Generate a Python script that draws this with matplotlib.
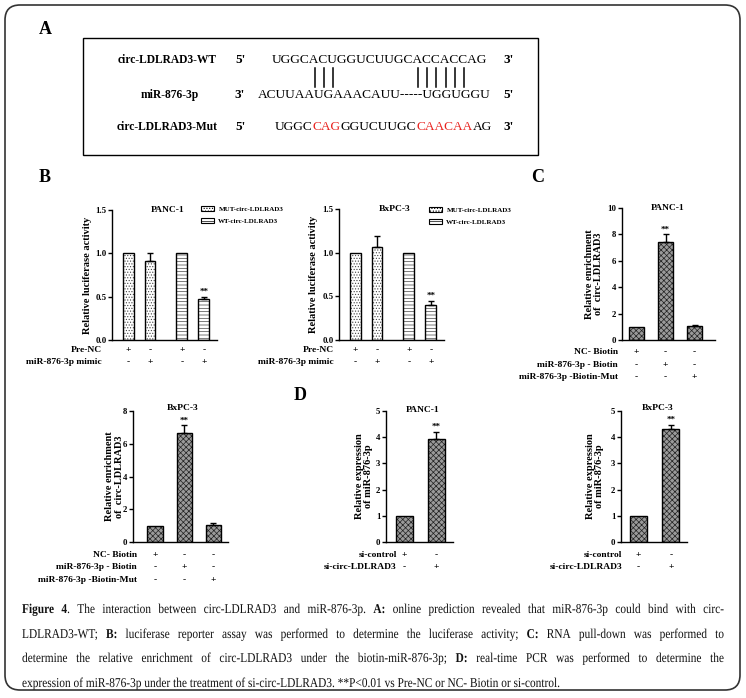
import matplotlib
matplotlib.use("Agg")
import matplotlib.pyplot as plt
from matplotlib.patches import Patch, Rectangle, FancyBboxPatch, PathPatch
from matplotlib.lines import Line2D
from matplotlib.textpath import TextPath, text_to_path
from matplotlib.font_manager import FontProperties
from matplotlib.transforms import Affine2D

plt.rcParams['font.family'] = ['Liberation Serif', 'DejaVu Serif']
plt.rcParams['hatch.linewidth'] = 0.5

W, H = 746, 698

# ---- panel A: sequences ----
seq_labels = ["circ-LDLRAD3-WT", "miR-876-3p", "circ-LDLRAD3-Mut"]
seq_ends = [("5'", "3'"), ("3'", "5'"), ("5'", "3'")]
wt_seq = "UGGCACUGGUCUUGCACCACCAG"
mir_seq = "ACUUAAUGAAACAUU-----UGGUGGU"
mut_parts = ["UGGC", "CAG", "GGUCUUGC", "CAACAA", "AG"]
mut_changed = [False, True, False, True, False]
paired = [4, 5, 6, 15, 16, 17, 18, 19, 20]   # WT positions that pair with the miRNA

# ---- panel B: luciferase ----
luc_groups = ["MUT-circ-LDLRAD3", "WT-circ-LDLRAD3"]
luc_rows = ["Pre-NC", "miR-876-3p mimic"]
luc_signs = [["+", "-", "+", "-"], ["-", "+", "-", "+"]]
luc_pos = [0, 1, 2.45, 3.45]
luc_panc = [1.0, 0.915, 1.0, 0.47]
luc_panc_err = [0, 0.085, 0, 0.03]
luc_bxpc = [1.0, 1.06, 1.0, 0.40]
luc_bxpc_err = [0, 0.13, 0, 0.05]
luc_stars = ["", "", "", "**"]

# ---- panel C: pull-down ----
pull_rows = ["NC- Biotin", "miR-876-3p - Biotin", "miR-876-3p -Biotin-Mut"]
pull_signs = [["+", "-", "-"], ["-", "+", "-"], ["-", "-", "+"]]
pull_pos = [0, 1, 2]
pull_panc = [1.0, 7.4, 1.06]
pull_panc_err = [0, 0.63, 0.07]
pull_bxpc = [1.0, 6.67, 1.03]
pull_bxpc_err = [0, 0.46, 0.1]
pull_stars = ["", "**", ""]

# ---- panel D: qPCR ----
pcr_rows = ["si-control", "si-circ-LDLRAD3"]
pcr_signs = [["+", "-"], ["-", "+"]]
pcr_pos = [0, 1]
pcr_panc = [1.0, 3.93]
pcr_panc_err = [0, 0.28]
pcr_bxpc = [1.0, 4.31]
pcr_bxpc_err = [0, 0.16]
pcr_stars = ["", "**"]

caption_lines = [
    "§Figure 4§. The interaction between circ-LDLRAD3 and miR-876-3p. §A:§ online prediction revealed that miR-876-3p could bind with circ-",
    "LDLRAD3-WT; §B:§ luciferase reporter assay was performed to determine the luciferase activity; §C:§ RNA pull-down was performed to",
    "determine the relative enrichment of circ-LDLRAD3 under the biotin-miR-876-3p; §D:§ real-time PCR was performed to determine the",
    "expression of miR-876-3p under the treatment of si-circ-LDLRAD3. **P<0.01 vs Pre-NC or NC- Biotin or si-control.",
]


def fx(x):
    return x / W


def fy(y):
    return 1 - y / H


fig = plt.figure(figsize=(W / 100, H / 100), dpi=100)
r = fig.canvas.get_renderer()

# outer rounded frame
fig.patches.append(FancyBboxPatch((0.05, 0.08), 7.35, 6.85, boxstyle="round,pad=0,rounding_size=0.15",
                                  transform=fig.dpi_scale_trans, fill=False, edgecolor='#333333', linewidth=1.2))

# panel letters
for letter, (x, y) in zip("ABCD", [(45, 30), (45, 178), (538, 178), (300, 395)]):
    fig.text(fx(x), fy(y), letter, fontsize=13, fontweight='bold', ha='center', va='center')

# ---- panel A ----
fig.patches.append(Rectangle((fx(83), fy(155)), fx(538) - fx(83), fy(38) - fy(155),
                             transform=fig.transFigure, fill=False, edgecolor='black', linewidth=1.0))
row_y = [60, 95, 127]
lab_x = [167, 170, 167]
for lab, lx, yy, (e1, e2) in zip(seq_labels, lab_x, row_y, seq_ends):
    fig.text(fx(lx), fy(yy), lab, fontsize=8.3, fontweight='bold', ha='center', va='center')
    fig.text(fx(240), fy(yy), e1, fontsize=9.5, fontweight='bold', ha='center', va='center')
    fig.text(fx(509), fy(yy), e2, fontsize=9.5, fontweight='bold', ha='center', va='center')

seq_fs = 9.6
wt_x0 = 272
fig.text(fx(wt_x0), fy(row_y[0]), wt_seq, fontsize=seq_fs, ha='left', va='center')
fig.text(fx(258), fy(row_y[1]), mir_seq, fontsize=seq_fs, ha='left', va='center')
x = 275
for part, changed in zip(mut_parts, mut_changed):
    t = fig.text(fx(x), fy(row_y[2]), part, fontsize=seq_fs, ha='left', va='center',
                 color='#e8231f' if changed else 'black')
    x += t.get_window_extent(r).width

# pairing bars, placed under the paired WT letters
probe = fig.text(0, 0, "", fontsize=seq_fs)
for i in paired:
    probe.set_text(wt_seq[:i])
    w0 = probe.get_window_extent(r).width if i else 0
    probe.set_text(wt_seq[:i + 1])
    w1 = probe.get_window_extent(r).width
    xc = wt_x0 + (w0 + w1) / 2
    fig.lines.append(Line2D([fx(xc), fx(xc)], [fy(68), fy(87)], transform=fig.transFigure,
                            color='black', linewidth=1.1))
probe.remove()


# ---- bar chart helpers ----
def make_axes(x0, x1, y0, y1):
    return fig.add_axes([fx(x0), fy(y1), fx(x1) - fx(x0), fy(y0) - fy(y1)])


def style(ax, ylim, yticks, fmt):
    ax.set_ylim(*ylim)
    ax.set_yticks(yticks)
    ax.set_yticklabels([fmt.format(t) for t in yticks], fontsize=6.3, fontweight='bold')
    ax.set_xticks([])
    for s in ['top', 'right']:
        ax.spines[s].set_visible(False)
    for s in ['left', 'bottom']:
        ax.spines[s].set_linewidth(1.0)
    ax.tick_params(axis='y', direction='out', length=3, width=1.0, pad=1)
    ax.patch.set_alpha(0)


def bars(ax, pos, vals, errs, stars, hatches, width):
    for p, v, e, s, h in zip(pos, vals, errs, stars, hatches):
        if h == 'check':
            ax.bar(p, v, width, color='#9a9a9a', edgecolor='#222222', hatch='xxxxxx', linewidth=0, zorder=2)
        else:
            ax.bar(p, v, width, color='white', edgecolor='#444444', hatch=h, linewidth=0, zorder=2)
        ax.bar(p, v, width, fill=False, edgecolor='black', linewidth=1.0, zorder=3)
        if e:
            ax.errorbar(p, v, yerr=[[0], [e]], fmt='none', ecolor='black', elinewidth=1.0,
                        capsize=2.5, capthick=1.0, zorder=4)
        if s:
            ax.annotate(s, xy=(p, v + e), xytext=(0, 0.5), textcoords='offset points',
                        ha='center', va='bottom', fontsize=6.5, fontweight='bold')


def conditions(ax, pos, rows, signs, offsets, label_dx):
    for lab, sg, off in zip(rows, signs, offsets):
        ax.annotate(lab, xy=(0, 0), xycoords='axes fraction', xytext=(label_dx, -off),
                    textcoords='offset pixels', ha='right', va='center', fontsize=6.8, fontweight='bold',
                    annotation_clip=False)
        for p, c in zip(pos, sg):
            ax.annotate(c, xy=(p, 0), xycoords=('data', 'axes fraction'), xytext=(0, -off),
                        textcoords='offset pixels', ha='center', va='center', fontsize=6.8,
                        fontweight='bold', annotation_clip=False)


def labels(ax, ylabel, label_dx, title, title_x, title_dy=0):
    ax.set_ylabel(ylabel, fontsize=7.5, fontweight='bold', linespacing=1.1)
    ax.yaxis.label.set_va('center')
    wpx = ax.get_position().width * W
    ax.yaxis.set_label_coords(label_dx / wpx, 0.5)
    hpx = ax.get_position().height * H
    ax.text(title_x, 1 + title_dy / hpx, title, transform=ax.transAxes, ha='center', va='center',
            fontsize=6.8, fontweight='bold')


luc_hatch = ['......', '......', '-----', '-----']

# B: PANC-1
ax = make_axes(112, 217, 210, 340)
bars(ax, luc_pos, luc_panc, luc_panc_err, luc_stars, luc_hatch, 0.5)
ax.set_xlim(-0.73, 4.05)
style(ax, (0, 1.5), [0, 0.5, 1.0, 1.5], "{:.1f}")
labels(ax, "Relative luciferase activity", -24, "PANC-1", 0.53)
conditions(ax, luc_pos, luc_rows, luc_signs, [10, 22], -10)
handles = [Patch(facecolor='white', edgecolor='black', hatch='......', linewidth=0.8),
           Patch(facecolor='white', edgecolor='black', hatch='-----', linewidth=0.8)]
leg_kw = dict(loc='upper left', bbox_transform=fig.transFigure, frameon=False, borderpad=0,
              borderaxespad=0, handlelength=1.8, handleheight=0.75, handletextpad=0.7,
              labelspacing=0.9, prop={'size': 5, 'weight': 'bold'})
ax.legend(handles, luc_groups, bbox_to_anchor=(fx(201), fy(206)), **leg_kw)

# B: BxPC-3
ax = make_axes(339, 444, 209, 340)
bars(ax, luc_pos, luc_bxpc, luc_bxpc_err, luc_stars, luc_hatch, 0.5)
ax.set_xlim(-0.73, 4.05)
style(ax, (0, 1.5), [0, 0.5, 1.0, 1.5], "{:.1f}")
labels(ax, "Relative luciferase activity", -25, "BxPC-3", 0.53)
conditions(ax, luc_pos, luc_rows, luc_signs, [10, 22], -5)
ax.legend(handles, luc_groups, bbox_to_anchor=(fx(429), fy(207)), **leg_kw)

# C: PANC-1
ax = make_axes(622, 715, 208, 340)
bars(ax, pull_pos, pull_panc, pull_panc_err, pull_stars, ['check'] * 3, 0.52)
ax.set_xlim(-0.5, 2.7)
style(ax, (0, 10), [0, 2, 4, 6, 8, 10], "{:d}")
labels(ax, "Relative enrichment\nof  circ-LDLRAD3", -28, "PANC-1", 0.49)
conditions(ax, pull_pos, pull_rows, pull_signs, [12, 25, 37], -4)

# C: BxPC-3
ax = make_axes(133, 228, 411, 542)
bars(ax, pull_pos, pull_bxpc, pull_bxpc_err, pull_stars, ['check'] * 3, 0.52)
ax.set_xlim(-0.75, 2.5)
style(ax, (0, 8), [0, 2, 4, 6, 8], "{:d}")
labels(ax, "Relative enrichment\nof  circ-LDLRAD3", -18.5, "BxPC-3", 0.52, 3)
conditions(ax, pull_pos, pull_rows, pull_signs, [13, 25, 38], 4)

# D: PANC-1
ax = make_axes(386, 453, 411, 542)
bars(ax, pcr_pos, pcr_panc, pcr_panc_err, pcr_stars, ['check'] * 2, 0.53)
ax.set_xlim(-0.58, 1.52)
style(ax, (0, 5), [0, 1, 2, 3, 4, 5], "{:d}")
labels(ax, "Relative expression\nof miR-876-3p", -22, "PANC-1", 0.54, 1)
conditions(ax, pcr_pos, pcr_rows, pcr_signs, [13, 25], 11)

# D: BxPC-3
ax = make_axes(621, 687, 411, 542)
bars(ax, pcr_pos, pcr_bxpc, pcr_bxpc_err, pcr_stars, ['check'] * 2, 0.53)
ax.set_xlim(-0.53, 1.5)
style(ax, (0, 5), [0, 1, 2, 3, 4, 5], "{:d}")
labels(ax, "Relative expression\nof miR-876-3p", -26, "BxPC-3", 0.56, 3)
conditions(ax, pcr_pos, pcr_rows, pcr_signs, [13, 25], 1)


# ---- caption: condensed serif, justified like the journal layout ----
def caption_words(line):
    words, bold = [], False
    for raw in line.split(' '):
        segs, cur = [], ''
        for ch in raw:
            if ch == '§':
                if cur:
                    segs.append((cur, bold))
                    cur = ''
                bold = not bold
            else:
                cur += ch
        if cur:
            segs.append((cur, bold))
        words.append(segs)
    return words


cap_px = 13.5
fp = {False: FontProperties(family='Liberation Serif', weight='normal', size=cap_px),
      True: FontProperties(family='Liberation Serif', weight='bold', size=cap_px)}


def tw(txt, bold):
    return text_to_path.get_text_width_height_descent(txt, fp[bold], ismath=False)[0]


space_w = tw("a a", False) - tw("aa", False)
cap_left, cap_right, last_right = 22, 724, 560
cap_base = [613, 638, 662, 687]

parsed = [caption_words(l) for l in caption_lines]
wid = [[sum(tw(t, b) for t, b in segs) for segs in words] for words in parsed]
# horizontal squeeze so the unjustified last line ends where it does in the layout
sx = (last_right - cap_left) / (sum(wid[-1]) + space_w * (len(wid[-1]) - 1))

for k, (words, ws, yb) in enumerate(zip(parsed, wid, cap_base)):
    if k < len(parsed) - 1:
        gap = (cap_right - cap_left - sx * sum(ws)) / (len(words) - 1)
    else:
        gap = sx * space_w
    x = cap_left
    for segs, ww in zip(words, ws):
        xx = x
        for t, b in segs:
            path = TextPath((0, 0), t, prop=fp[b])
            tr = Affine2D().scale(sx, 1).translate(xx, H - yb)
            fig.add_artist(PathPatch(path, transform=tr, facecolor='#111111', edgecolor='none'))
            xx += sx * tw(t, b)
        x += sx * ww + gap

fig.savefig("out.png", dpi=100)
